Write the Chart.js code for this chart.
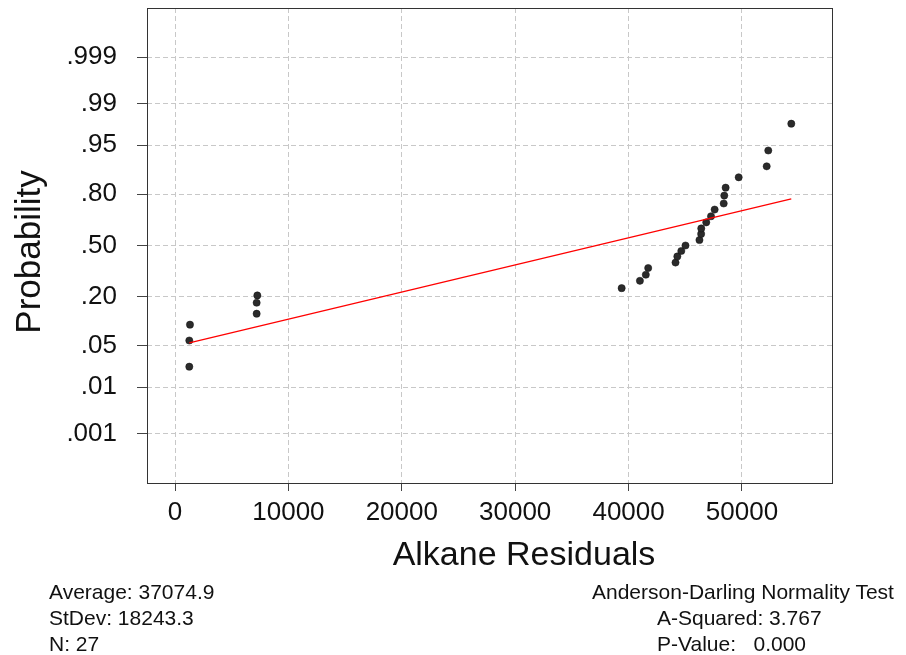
<!DOCTYPE html>
<html>
<head>
<meta charset="utf-8">
<script src="https://cdn.jsdelivr.net/npm/chart.js@4.4.1/dist/chart.umd.min.js"></script>
<style>
  body { margin: 0; background: #fff; }
  .wrap { position: relative; width: 906px; height: 655px; font-family: Arial, "Liberation Sans", sans-serif; color: #111; }
  canvas { position: absolute; left: 0; top: 0; }
  .stats { position: absolute; font-size: 21px; line-height: 26px; white-space: pre; }
  .xtitle { position: absolute; left: 324px; top: 533px; width: 400px; text-align: center; font-size: 34px; line-height: 40px; }
  .ytitle { position: absolute; left: -122px; top: 231px; width: 300px; height: 42px; text-align: center; font-size: 35px; line-height: 42px; transform: rotate(-90deg); }
</style>
</head>
<body>
<div class="wrap">
  <canvas id="probPlot" width="906" height="655"></canvas>
  <div class="ytitle">Probability</div>
  <div class="xtitle">Alkane Residuals</div>
  <div class="stats" style="left:49px; top:579px;">Average: 37074.9
StDev: 18243.3
N: 27</div>
  <div class="stats" style="left:592px; top:579px;">Anderson-Darling Normality Test</div>
  <div class="stats" style="left:657px; top:605px;">A-Squared: 3.767
P-Value:   0.000</div>
</div>
<script>
/* residuals, sorted */
const residuals = [1260, 1260, 1320, 7200, 7200, 7260, 39390, 41000, 41520, 41730,
  44140, 44300, 44650, 45020, 46250, 46400, 46410, 46850, 47270, 47590,
  48390, 48440, 48560, 49710, 52180, 52320, 54350];
/* normal scores (probability axis, in z units) */
const normalScores = [-1.99, -1.56, -1.30, -1.12, -0.94, -0.82, -0.70, -0.58, -0.48, -0.37,
  -0.28, -0.18, -0.09, 0.00, 0.09, 0.19, 0.28, 0.38, 0.48, 0.59,
  0.69, 0.82, 0.95, 1.12, 1.30, 1.56, 2.00];

/* fitted line ends */
const fitX = [1260, 54350];
const fitZ = [-1.60, 0.766];

/* axis ticks */
const xTicks = [0, 10000, 20000, 30000, 40000, 50000];
const probLabels = ['.001', '.01', '.05', '.20', '.50', '.80', '.95', '.99', '.999'];
const probZ = [-3.09, -2.326, -1.645, -0.842, 0, 0.842, 1.645, 2.326, 3.09];

const points = residuals.map((x, i) => ({ x: x, y: normalScores[i] }));
const fitLine = fitX.map((x, i) => ({ x: x, y: fitZ[i] }));

const fontFam = 'Arial, "Liberation Sans", sans-serif';

// frame round the plot area
const frame = {
  id: 'frame',
  afterDatasetsDraw(chart) {
    const { ctx, chartArea: a } = chart;
    ctx.save();
    ctx.strokeStyle = '#333';
    ctx.lineWidth = 1;
    ctx.strokeRect(a.left + 0.5, a.top + 0.5, a.right - a.left, a.bottom - a.top);
    ctx.restore();
  }
};

new Chart(document.getElementById('probPlot'), {
  type: 'scatter',
  data: {
    datasets: [
      {
        label: 'fit',
        data: fitLine,
        showLine: true,
        borderColor: '#ff0000',
        borderWidth: 1.3,
        pointRadius: 0,
        order: 1
      },
      {
        label: 'residuals',
        data: points,
        backgroundColor: '#2b2b2b',
        borderColor: '#111',
        borderWidth: 0.5,
        pointRadius: 3.6,
        order: 2
      }
    ]
  },
  options: {
    responsive: false,
    animation: false,
    layout: { padding: { top: 8, right: 74, left: 0, bottom: 80 } },
    plugins: { legend: { display: false }, tooltip: { enabled: false } },
    scales: {
      x: {
        type: 'linear',
        min: -2470,
        max: 57940,
        afterBuildTicks: (scale) => { scale.ticks = xTicks.map(v => ({ value: v })); },
        afterFit: (scale) => { scale.height = 92; scale.paddingLeft = 0; scale.paddingRight = 0; },
        grid: {
          color: '#c8c8c8',
          tickColor: '#444',
          tickBorderDash: [],
          tickLength: 8
        },
        border: { display: false, dash: [5, 3] },
        ticks: {
          color: '#111',
          font: { family: fontFam, size: 26 },
          padding: 6,
          maxRotation: 0,
          callback: (v) => String(v)
        }
      },
      y: {
        type: 'linear',
        min: -3.9,
        max: 3.9,
        afterBuildTicks: (scale) => { scale.ticks = probZ.map(v => ({ value: v })); },
        afterFit: (scale) => { scale.width = 147; scale.paddingTop = 0; scale.paddingBottom = 0; },
        grid: {
          color: '#c8c8c8',
          tickColor: '#444',
          tickBorderDash: [],
          tickLength: 10
        },
        border: { display: false, dash: [5, 3] },
        ticks: {
          color: '#111',
          font: { family: fontFam, size: 26 },
          padding: 20,
          callback: (v, i) => probLabels[i]
        }
      }
    }
  },
  plugins: [frame]
});
</script>
</body>
</html>
